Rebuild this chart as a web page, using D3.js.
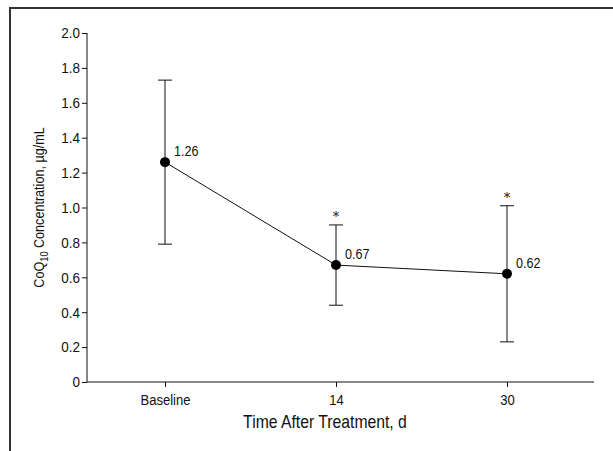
<!DOCTYPE html>
<html>
<head>
<meta charset="utf-8">
<script src="https://cdn.jsdelivr.net/npm/d3@7"></script>
<style>
  body { margin: 0; background: #fff; }
  svg text { font-family: "Liberation Sans", Arial, sans-serif; fill: #111; }
</style>
</head>
<body>
<svg width="613" height="451"></svg>
<script>
var categories = ["Baseline", "14", "30"];
var means = [1.26, 0.67, 0.62];
var lower = [0.79, 0.44, 0.23];
var upper = [1.73, 0.90, 1.01];
var significant = [false, true, true];
var yTicks = [0, 0.2, 0.4, 0.6, 0.8, 1.0, 1.2, 1.4, 1.6, 1.8, 2.0];

// squeeze text horizontally to mimic a condensed face
function condense(sel, k) {
    sel.each(function(){
        var t = d3.select(this);
        var x = +t.attr("x") || 0;
        t.attr("x", x / k)
         .attr("transform", (t.attr("transform") || "") + " scale(" + k + ",1)");
    });
}

function main() {
    var svg = d3.select("svg");

    // frame (cropped box, only top and left edges visible)
    svg.append("path")
        .attr("d", "M10,451 V8 H613")
        .attr("fill", "none")
        .attr("stroke", "#333")
        .attr("stroke-width", 2);

    var x0 = 87, x1 = 594, yTop = 33, yBot = 382;

    var xScale = d3.scalePoint().domain(categories).range([165, 507]);
    var yScale = d3.scaleLinear().domain([0, 2]).range([yBot, yTop]);

    // y axis
    var yAxis = svg.append("g").attr("transform", "translate(" + x0 + ",0)")
        .call(d3.axisLeft(yScale).tickValues(yTicks).tickSize(5).tickPadding(2)
            .tickFormat(function(d){ return d === 0 ? "0" : d3.format(".1f")(d); }));
    yAxis.select(".domain").remove();
    yAxis.append("line").attr("x1", 0).attr("x2", 0).attr("y1", yTop).attr("y2", yBot)
        .attr("stroke", "#111");
    yAxis.selectAll("text").attr("font-size", "15px").attr("fill", "#111");
    yAxis.selectAll(".tick line").attr("stroke", "#111");
    condense(yAxis.selectAll(".tick text"), 0.9);

    // x axis
    var xAxis = svg.append("g").attr("transform", "translate(0," + yBot + ")")
        .call(d3.axisBottom(xScale).tickSize(5).tickPadding(7));
    xAxis.select(".domain").remove();
    xAxis.append("line").attr("x1", x0).attr("x2", x1).attr("y1", 0).attr("y2", 0)
        .attr("stroke", "#111");
    xAxis.selectAll("text").attr("font-size", "15px").attr("fill", "#111");
    xAxis.selectAll(".tick line").attr("stroke", "#111");
    condense(xAxis.selectAll(".tick text"), 0.87);

    // axis titles
    var xt = svg.append("text")
        .attr("x", 325)
        .attr("y", 428)
        .attr("text-anchor", "middle")
        .attr("font-size", "17.5px")
        .text("Time After Treatment, d");
    condense(xt, 0.9);

    var yl = svg.append("text")
        .attr("transform", "translate(44," + ((yTop + yBot) / 2) + ") rotate(-90) scale(0.84,1)")
        .attr("text-anchor", "middle")
        .attr("font-size", "15px");
    yl.append("tspan").text("CoQ");
    yl.append("tspan").attr("font-size", "11px").attr("dy", 4).text("10");
    yl.append("tspan").attr("dy", -4).text(" Concentration, \u00b5g/mL");

    var data = categories.map(function(c, i){
        return { cat: c, mean: means[i], lo: lower[i], hi: upper[i], sig: significant[i] };
    });

    // error bars
    var eb = svg.append("g").attr("stroke", "#111").attr("stroke-width", 1);
    data.forEach(function(d){
        var cx = xScale(d.cat);
        eb.append("line").attr("x1", cx).attr("x2", cx)
            .attr("y1", yScale(d.lo)).attr("y2", yScale(d.hi));
        eb.append("line").attr("x1", cx - 7).attr("x2", cx + 7)
            .attr("y1", yScale(d.lo)).attr("y2", yScale(d.lo));
        eb.append("line").attr("x1", cx - 7).attr("x2", cx + 7)
            .attr("y1", yScale(d.hi)).attr("y2", yScale(d.hi));
    });

    // connecting line
    var line = d3.line()
        .x(function(d){ return xScale(d.cat); })
        .y(function(d){ return yScale(d.mean); });
    svg.append("path").datum(data)
        .attr("d", line)
        .attr("fill", "none")
        .attr("stroke", "#111")
        .attr("stroke-width", 1);

    // points
    svg.selectAll(".pt").data(data).enter().append("circle")
        .attr("class", "pt")
        .attr("cx", function(d){ return xScale(d.cat); })
        .attr("cy", function(d){ return yScale(d.mean); })
        .attr("r", 5)
        .attr("fill", "#000");

    // value labels
    var vals = svg.selectAll(".val").data(data).enter().append("text")
        .attr("class", "val")
        .attr("x", function(d){ return xScale(d.cat) + 9; })
        .attr("y", function(d){ return yScale(d.mean) - 6; })
        .attr("font-size", "15px")
        .text(function(d){ return d3.format(".2f")(d.mean); });
    condense(vals, 0.84);

    // significance asterisks
    svg.selectAll(".sig").data(data.filter(function(d){ return d.sig; })).enter().append("text")
        .attr("class", "sig")
        .attr("x", function(d){ return xScale(d.cat); })
        .attr("y", function(d){ return yScale(d.hi) - 4; })
        .attr("text-anchor", "middle")
        .attr("font-size", "13px")
        .style("font-family", "DejaVu Serif, serif")
        .attr("fill", "#555")
        .text("*");
}

main();
</script>
</body>
</html>
